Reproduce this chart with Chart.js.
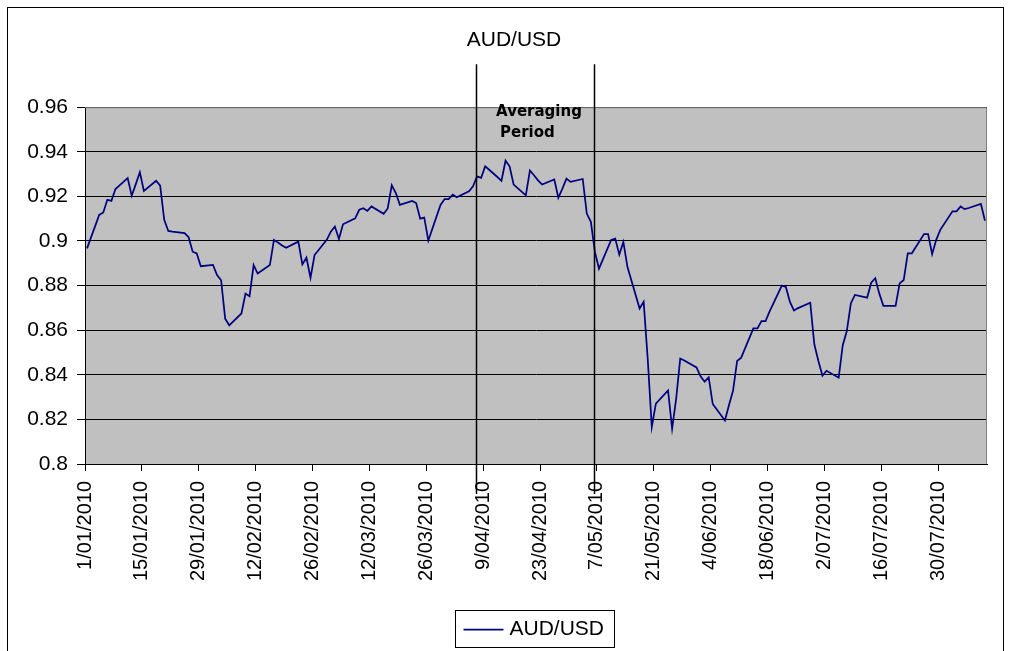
<!DOCTYPE html>
<html>
<head>
<meta charset="utf-8">
<script src="https://cdn.jsdelivr.net/npm/chart.js@4.4.1/dist/chart.umd.min.js"></script>
<style>
  body { margin: 0; background: #fff; }
  canvas { display: block; }
</style>
</head>
<body>
<canvas id="grafico" width="1010" height="651"></canvas>
<script>
// Trading days (x) and AUD/USD close (y)
const dates = [
    '2010-01-01', '2010-01-04', '2010-01-05', '2010-01-06', '2010-01-07', '2010-01-08',
    '2010-01-11', '2010-01-12', '2010-01-13', '2010-01-14', '2010-01-15',
    '2010-01-18', '2010-01-19', '2010-01-20', '2010-01-21', '2010-01-22',
    '2010-01-25', '2010-01-26', '2010-01-27', '2010-01-28', '2010-01-29',
    '2010-02-01', '2010-02-02', '2010-02-03', '2010-02-04', '2010-02-05',
    '2010-02-08', '2010-02-09', '2010-02-10', '2010-02-11', '2010-02-12',
    '2010-02-15', '2010-02-16', '2010-02-17', '2010-02-18', '2010-02-19',
    '2010-02-22', '2010-02-23', '2010-02-24', '2010-02-25', '2010-02-26',
    '2010-03-01', '2010-03-02', '2010-03-03', '2010-03-04', '2010-03-05',
    '2010-03-08', '2010-03-09', '2010-03-10', '2010-03-11', '2010-03-12',
    '2010-03-15', '2010-03-16', '2010-03-17', '2010-03-18', '2010-03-19',
    '2010-03-22', '2010-03-23', '2010-03-24', '2010-03-25', '2010-03-26',
    '2010-03-29', '2010-03-30', '2010-03-31', '2010-04-01', '2010-04-02',
    '2010-04-05', '2010-04-06', '2010-04-07', '2010-04-08', '2010-04-09',
    '2010-04-12', '2010-04-13', '2010-04-14', '2010-04-15', '2010-04-16',
    '2010-04-19', '2010-04-20', '2010-04-21', '2010-04-22', '2010-04-23',
    '2010-04-26', '2010-04-27', '2010-04-28', '2010-04-29', '2010-04-30',
    '2010-05-03', '2010-05-04', '2010-05-05', '2010-05-06', '2010-05-07',
    '2010-05-10', '2010-05-11', '2010-05-12', '2010-05-13', '2010-05-14',
    '2010-05-17', '2010-05-18', '2010-05-19', '2010-05-20', '2010-05-21',
    '2010-05-24', '2010-05-25', '2010-05-26', '2010-05-27', '2010-05-28',
    '2010-05-31', '2010-06-01', '2010-06-02', '2010-06-03', '2010-06-04',
    '2010-06-07', '2010-06-08', '2010-06-09', '2010-06-10', '2010-06-11',
    '2010-06-14', '2010-06-15', '2010-06-16', '2010-06-17', '2010-06-18',
    '2010-06-21', '2010-06-22', '2010-06-23', '2010-06-24', '2010-06-25',
    '2010-06-28', '2010-06-29', '2010-06-30', '2010-07-01', '2010-07-02',
    '2010-07-05', '2010-07-06', '2010-07-07', '2010-07-08', '2010-07-09',
    '2010-07-12', '2010-07-13', '2010-07-14', '2010-07-15', '2010-07-16',
    '2010-07-19', '2010-07-20', '2010-07-21', '2010-07-22', '2010-07-23',
    '2010-07-26', '2010-07-27', '2010-07-28', '2010-07-29', '2010-07-30',
    '2010-08-02', '2010-08-03', '2010-08-04', '2010-08-05', '2010-08-06',
    '2010-08-09', '2010-08-10'
];

const audUsd = [
    0.8967, 0.9117, 0.9128, 0.9185, 0.9180, 0.9233,
    0.9282, 0.9203, 0.9255, 0.9308, 0.9225,
    0.9270, 0.9248, 0.9095, 0.9045, 0.9042,
    0.9035, 0.9017, 0.8952, 0.8944, 0.8887,
    0.8893, 0.8847, 0.8824, 0.8652, 0.8622,
    0.8675, 0.8764, 0.8752, 0.8892, 0.8854,
    0.8892, 0.9005, 0.8993, 0.8980, 0.8970,
    0.8997, 0.8895, 0.8925, 0.8835, 0.8937,
    0.9005, 0.9042, 0.9065, 0.9009, 0.9075,
    0.9102, 0.9140, 0.9147, 0.9135, 0.9155,
    0.9122, 0.9146, 0.9250, 0.9215, 0.9162,
    0.9180, 0.9170, 0.9100, 0.9105, 0.9002,
    0.9162, 0.9188, 0.9188, 0.9208, 0.9196,
    0.9223, 0.9245, 0.9290, 0.9283, 0.9335,
    0.9287, 0.9270, 0.9360, 0.9335, 0.9253,
    0.9205, 0.9316, 0.9295, 0.9272, 0.9253,
    0.9276, 0.9194, 0.9235, 0.9280, 0.9265,
    0.9278, 0.9123, 0.9086, 0.8951, 0.8876,
    0.9005, 0.9011, 0.8939, 0.8996, 0.8884,
    0.8697, 0.8727, 0.8470, 0.8166, 0.8271,
    0.8330, 0.8158, 0.8293, 0.8473, 0.8464,
    0.8433, 0.8393, 0.8369, 0.8388, 0.8269,
    0.8195, 0.8265, 0.8329, 0.8462, 0.8477,
    0.8608, 0.8608, 0.8641, 0.8641, 0.8684,
    0.8800, 0.8794, 0.8727, 0.8688, 0.8699,
    0.8723, 0.8537, 0.8462, 0.8396, 0.8418,
    0.8387, 0.8533, 0.8596, 0.8721, 0.8758,
    0.8746, 0.8813, 0.8833, 0.8764, 0.8709,
    0.8709, 0.8810, 0.8825, 0.8945, 0.8945,
    0.9031, 0.9031, 0.8941, 0.9005, 0.9050,
    0.9133, 0.9133, 0.9155, 0.9143, 0.9148,
    0.9166, 0.9091
];

const tickLabels = [
    '1/01/2010', '15/01/2010', '29/01/2010', '12/02/2010', '26/02/2010', '12/03/2010',
    '26/03/2010', '9/04/2010', '23/04/2010', '7/05/2010', '21/05/2010', '4/06/2010',
    '18/06/2010', '2/07/2010', '16/07/2010', '30/07/2010'
];
const yTicks = [0.8, 0.82, 0.84, 0.86, 0.88, 0.9, 0.92, 0.94, 0.96];
const averagingPeriod = ['2010-04-07', '2010-05-06'];
const axisEnd = '2010-08-11';
const titulo = 'AUD/USD';

const inicio = Date.UTC(2010, 0, 1);
function diaIso(s) {
    const p = s.split('-');
    return (Date.UTC(+p[0], p[1] - 1, +p[2]) - inicio) / 86400000;
}
function diaLabel(s) {
    const p = s.split('/');
    return (Date.UTC(+p[2], p[1] - 1, +p[0]) - inicio) / 86400000;
}

// each day is one slot on the date axis, the point sits mid-slot
const pontos = dates.map((d, i) => ({ x: diaIso(d) + 0.5, y: audUsd[i] }));
const tickDias = tickLabels.map(diaLabel);

const fonte = "'Liberation Sans', Arial, sans-serif";

// silver plot area, frame, title, averaging lines and legend box
const decoracao = {
    id: 'decoracao',
    beforeDraw(chart) {
        const { ctx, chartArea: a } = chart;
        ctx.save();
        ctx.fillStyle = '#fff';
        ctx.fillRect(0, 0, chart.width, chart.height);
        ctx.fillStyle = '#c0c0c0';
        ctx.fillRect(a.left, a.top, a.right - a.left, a.bottom - a.top);
        ctx.restore();
    },
    afterDatasetsDraw(chart) {
        const { ctx, chartArea: a } = chart;
        const xs = chart.scales.x;
        ctx.save();
        ctx.strokeStyle = '#808080';
        ctx.lineWidth = 1;
        ctx.beginPath();
        ctx.moveTo(a.left, a.top + 0.5);
        ctx.lineTo(a.right - 0.5, a.top + 0.5);
        ctx.lineTo(a.right - 0.5, a.bottom);
        ctx.stroke();

        // averaging period markers
        ctx.strokeStyle = '#000';
        ctx.lineWidth = 1.5;
        averagingPeriod.forEach(d => {
            const x = Math.round(xs.getPixelForValue(diaIso(d))) + 1.5;
            ctx.beginPath();
            ctx.moveTo(x, a.top - 43);
            ctx.lineTo(x, a.bottom + 30);
            ctx.stroke();
        });
        const x0 = xs.getPixelForValue(diaIso(averagingPeriod[0]));
        ctx.fillStyle = '#000';
        ctx.font = "bold 15px 'DejaVu Sans', Verdana, sans-serif";
        ctx.textBaseline = 'alphabetic';
        ctx.fillText('Averaging', x0 + 21, a.top + 9);
        ctx.fillText('Period', x0 + 25, a.top + 30);
        ctx.restore();
    },
    afterDraw(chart) {
        const { ctx } = chart;
        const ds = chart.data.datasets[0];
        ctx.save();
        // outer frame
        ctx.strokeStyle = '#000';
        ctx.lineWidth = 1;
        ctx.strokeRect(7.5, 7.5, chart.width - 14, chart.height + 20);

        // title, centred on the whole frame like the original
        ctx.fillStyle = '#000';
        ctx.font = '21px ' + fonte;
        ctx.textAlign = 'center';
        ctx.textBaseline = 'middle';
        ctx.fillText(titulo, chart.width / 2 + 9, 40);

        // legend
        const cx = (chart.chartArea.left + chart.chartArea.right) / 2;
        const bx = Math.round(cx - 81) + 0.5, by = 610.5, bw = 159, bh = 37;
        ctx.strokeRect(bx, by, bw, bh);
        ctx.strokeStyle = ds.borderColor;
        ctx.lineWidth = 1.75;
        ctx.beginPath();
        ctx.moveTo(bx + 8, by + 19);
        ctx.lineTo(bx + 48, by + 19);
        ctx.stroke();
        ctx.textAlign = 'left';
        ctx.fillText(ds.label, bx + 54, by + 19);
        ctx.restore();
    }
};

new Chart(document.getElementById('grafico'), {
    type: 'line',
    data: {
        datasets: [{
            label: 'AUD/USD',
            data: pontos,
            borderColor: '#000080',
            borderWidth: 1.75,
            pointRadius: 0,
            tension: 0,
            fill: false
        }]
    },
    options: {
        responsive: false,
        animation: false,
        layout: { padding: { left: 0, right: 23, top: 0, bottom: 0 } },
        plugins: {
            legend: { display: false },
            tooltip: { enabled: false },
            // keeps the space above the plot, text is drawn by the plugin
            title: {
                display: true,
                text: titulo,
                color: 'rgba(0,0,0,0)',
                font: { family: fonte, size: 21, weight: 'normal' },
                padding: { top: 27, bottom: 55 }
            }
        },
        scales: {
            x: {
                type: 'linear',
                min: 0,
                max: diaIso(axisEnd),
                afterBuildTicks(scale) {
                    scale.ticks = tickDias.map(v => ({ value: v }));
                },
                afterFit(scale) { scale.height = 187; },
                ticks: {
                    autoSkip: false,
                    minRotation: 90,
                    maxRotation: 90,
                    padding: 10,
                    color: '#000',
                    font: { family: fonte, size: 20 },
                    callback: (v) => tickLabels[tickDias.indexOf(v)]
                },
                grid: { drawOnChartArea: false, drawTicks: true, tickLength: 7, color: '#000' },
                border: { color: '#000', width: 1 }
            },
            y: {
                min: 0.8,
                max: 0.96,
                afterBuildTicks(scale) {
                    scale.ticks = yTicks.map(v => ({ value: v }));
                },
                afterFit(scale) { scale.width = 85; },
                ticks: {
                    padding: 9,
                    color: '#000',
                    font: { family: fonte, size: 21 },
                    callback: (v) => String(+v.toFixed(2))
                },
                grid: { color: '#000', lineWidth: 1, tickLength: 8 },
                border: { color: '#000', width: 1 }
            }
        }
    },
    plugins: [decoracao]
});
</script>
</body>
</html>
